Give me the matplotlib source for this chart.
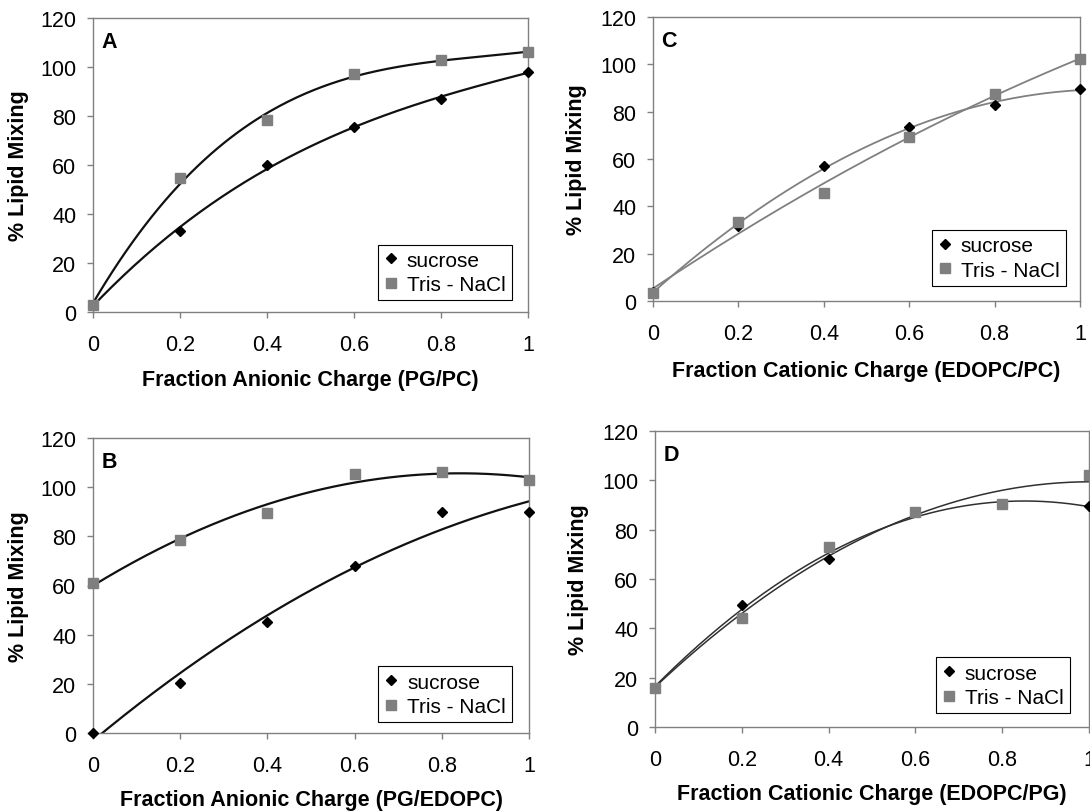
import numpy as np
import matplotlib.pyplot as plt
import matplotlib as mpl

# x positions (fraction of charge) and tick labels
frac = [0, 0.2, 0.4, 0.6, 0.8, 1.0]
frac_labels = ['0', '0.2', '0.4', '0.6', '0.8', '1']
mix_ticks = [0, 20, 40, 60, 80, 100, 120]

# % lipid mixing
a_sucrose = [3, 33, 60, 75.5, 87, 98]
a_tris = [3, 54.5, 78.5, 97, 103, 106]
b_sucrose = [0, 20.5, 45, 68, 90, 90]
b_tris = [61, 78.5, 89.5, 105.5, 106, 103]
c_sucrose = [4, 31.5, 57, 73.5, 83, 89.5]
c_tris = [3.5, 33.5, 45.5, 69.5, 87.5, 102.3]
d_sucrose = [16, 49.4, 68, 87, 90.5, 89.5]  # 0.6 and 0.8 hidden under squares
d_tris = [16, 44.3, 73, 87, 90.5, 102]

panels = ['A', 'B', 'C', 'D']
xlabels = ['Fraction Anionic Charge (PG/PC)',
           'Fraction Anionic Charge (PG/EDOPC)',
           'Fraction Cationic Charge (EDOPC/PC)',
           'Fraction Cationic Charge (EDOPC/PG)']
ylabel = '% Lipid Mixing'
series_names = ['sucrose', 'Tris - NaCl']

mpl.rcParams['font.family'] = ['Liberation Sans', 'DejaVu Sans']
mpl.rcParams['font.size'] = 15

fig = plt.figure(figsize=(10.9, 8.12), dpi=100)

W, H = 1090.0, 812.0
# pixel boxes: left, top, right, bottom
boxes = {'A': (93, 19, 528, 313),
         'B': (93, 439, 529, 734),
         'C': (653, 18, 1080, 302),
         'D': (655, 432, 1089, 728)}
data = {'A': (a_sucrose, a_tris),
        'B': (b_sucrose, b_tris),
        'C': (c_sucrose, c_tris),
        'D': (d_sucrose, d_tris)}
degree = {'A': 3, 'B': 2, 'C': 2, 'D': 2}
line_color = {'A': '#111111', 'B': '#111111', 'C': '#808080', 'D': '#303030'}
line_width = {'A': 1.6, 'B': 1.6, 'C': 1.3, 'D': 1.1}
leg_anchor = {'A': (0.963, 0.04), 'B': (0.961, 0.037),
              'C': (0.967, 0.053), 'D': (0.956, 0.047)}
xlab_y = {'A': -0.228, 'B': -0.227, 'C': -0.246, 'D': -0.223}
ylab_x = {'A': -0.172, 'B': -0.172, 'C': -0.178, 'D': -0.177}

xs = np.linspace(0, 1, 200)
for i, p in enumerate(panels):
    l, t, r, b = boxes[p]
    ax = fig.add_axes([l / W, 1 - b / H, (r - l) / W, (b - t) / H])
    suc, tris = data[p]

    # excel-style polynomial trendlines
    for ys in (suc, tris):
        coef = np.polyfit(frac, ys, degree[p])
        ax.plot(xs, np.polyval(coef, xs), color=line_color[p],
                lw=line_width[p], zorder=2)

    h1, = ax.plot(frac, suc, linestyle='none', marker='D', ms=5.5,
                  color='black', label=series_names[0], clip_on=False, zorder=3)
    h2, = ax.plot(frac, tris, linestyle='none', marker='s', ms=7,
                  color='#7f7f7f', label=series_names[1], clip_on=False, zorder=4)

    ax.set_xlim(0, 1)
    ax.set_ylim(0, 120)
    ax.set_xticks(frac)
    ax.set_xticklabels(frac_labels)
    ax.set_yticks(mix_ticks)
    for s in ax.spines.values():
        s.set_color('#808080')
        s.set_linewidth(1.0)
    ax.tick_params(axis='both', direction='out', length=4, width=1,
                   color='#808080', labelsize=15.5)
    ax.tick_params(axis='x', pad=12)
    ax.tick_params(axis='y', pad=8)

    ax.text(0.02, 0.955, p, transform=ax.transAxes, ha='left', va='top',
            fontsize=15.5, fontweight='bold')
    ax.text(0.5, xlab_y[p], xlabels[i], transform=ax.transAxes,
            ha='center', va='center', fontsize=15.5, fontweight='bold')
    ax.text(ylab_x[p], 0.5, ylabel, transform=ax.transAxes, rotation=90,
            ha='center', va='center', fontsize=15.5, fontweight='bold')

    leg = ax.legend(handles=[h1, h2], loc='lower right',
                    bbox_to_anchor=leg_anchor[p], fancybox=False,
                    edgecolor='black', framealpha=1, fontsize=15,
                    handlelength=0.7, handletextpad=0.4, borderpad=0.3,
                    labelspacing=0.25, borderaxespad=0)
    leg.get_frame().set_linewidth(0.8)

fig.savefig('out.png', dpi=100)
